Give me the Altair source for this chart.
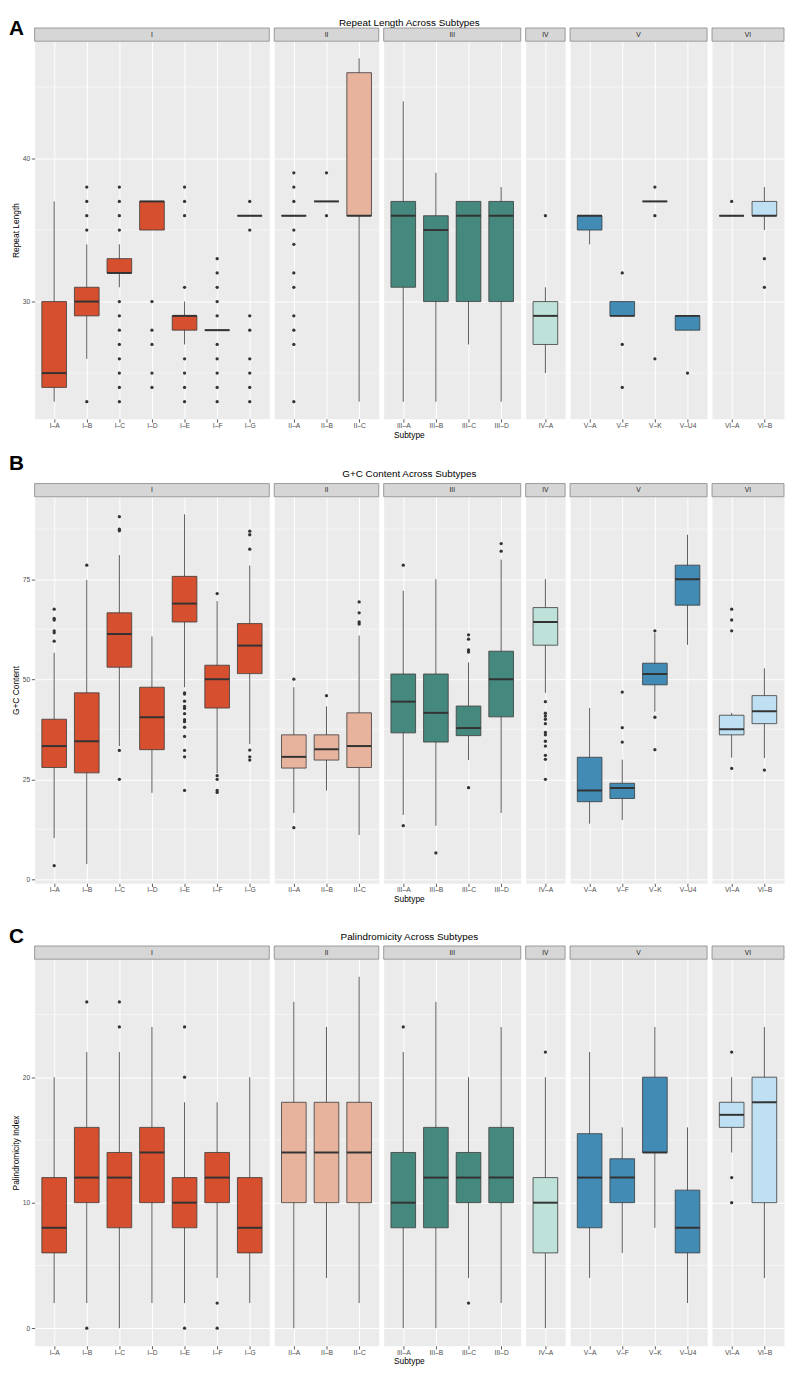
import altair as alt
import pandas as pd

FONT = "Liberation Sans"

# ---------------- categories ----------------
SUBTYPE = ["I\u2013A", "I\u2013B", "I\u2013C", "I\u2013D", "I\u2013E", "I\u2013F", "I\u2013G",
           "II\u2013A", "II\u2013B", "II\u2013C",
           "III\u2013A", "III\u2013B", "III\u2013C", "III\u2013D",
           "IV\u2013A",
           "V\u2013A", "V\u2013F", "V\u2013K", "V\u2013U4",
           "VI\u2013A", "VI\u2013B"]
SUBTYPE_TYPE = ["I"] * 7 + ["II"] * 3 + ["III"] * 4 + ["IV"] + ["V"] * 4 + ["VI"] * 2
TYPES = ["I", "II", "III", "IV", "V", "VI"]
TYPE_COLOR = ["#D6502F", "#E7B39D", "#45897E", "#BEE2DA", "#418BB5", "#BEE0F2"]

# ---------------- Repeat length ----------------
RL_Q1 = [24, 29, 32, 35, 28, 28, 36, 36, 37, 36, 31, 30, 30, 30, 27, 35, 29, 37, 28, 36, 36]
RL_MED = [25, 30, 32, 37, 29, 28, 36, 36, 37, 36, 36, 35, 36, 36, 29, 36, 29, 37, 29, 36, 36]
RL_Q3 = [30, 31, 33, 37, 29, 28, 36, 36, 37, 46, 37, 36, 37, 37, 30, 36, 30, 37, 29, 36, 37]
RL_LO = [23, 26, 31, 35, 27, 28, 36, 36, 37, 23, 23, 23, 27, 23, 25, 34, 29, 37, 28, 36, 35]
RL_HI = [37, 34, 34, 37, 30, 28, 36, 36, 37, 47, 44, 39, 37, 38, 31, 36, 30, 37, 29, 36, 38]
RL_OUT = [[], [38, 37, 36, 35, 23], [38, 37, 36, 35, 30, 29, 28, 27, 26, 25, 24, 23],
          [30, 28, 27, 25, 24], [38, 37, 36, 31, 26, 25, 24, 23],
          [33, 32, 31, 30, 29, 27, 26, 25, 24, 23], [37, 35, 29, 28, 26, 25, 24, 23],
          [39, 38, 37, 35, 34, 32, 31, 29, 28, 27, 23], [39, 36], [],
          [], [], [], [], [36], [], [32, 27, 24], [38, 36, 26], [25], [37], [33, 31]]

# ---------------- G+C content ----------------
GC_Q1 = [27.95, 26.6, 53.0, 32.4, 64.3, 42.8, 51.4, 27.8, 29.8, 27.95, 36.6, 34.3, 35.9, 40.6,
         58.5, 19.4, 20.2, 48.6, 68.5, 36.1, 38.9]
GC_MED = [33.3, 34.5, 61.3, 40.5, 68.9, 50.0, 58.4, 30.6, 32.5, 33.3, 44.4, 41.6, 37.8, 50.0,
          64.3, 22.2, 22.8, 51.3, 75.0, 37.5, 42.0]
GC_Q3 = [40.0, 46.6, 66.6, 48.0, 75.7, 53.5, 63.9, 36.1, 36.1, 41.6, 51.3, 51.3, 43.3, 57.0,
         67.9, 30.5, 24.0, 54.0, 78.5, 41.0, 45.9]
GC_LO = [10.3, 3.8, 33.3, 21.6, 48.0, 26.5, 33.8, 16.6, 22.2, 11.1, 16.1, 13.4, 29.8, 16.6,
         46.6, 13.9, 14.8, 41.9, 58.6, 30.4, 30.3]
GC_HI = [56.6, 74.8, 81.0, 60.7, 91.2, 69.5, 78.4, 48.0, 43.2, 60.9, 72.1, 75.0, 54.2, 79.9,
         75.0, 42.8, 29.9, 61.5, 86.1, 41.6, 52.7]
GC_OUT = [[67.5, 65.2, 64.8, 62.1, 61.6, 59.5, 3.4], [78.5], [90.6, 87.5, 87.1, 32.2, 25.0], [],
          [46.6, 46.3, 44.5, 43.2, 42.7, 41.4, 39.9, 39.4, 38.0, 35.7, 32.2, 30.6, 22.2],
          [71.4, 25.9, 25.0, 22.2, 21.7], [87.0, 86.1, 82.5, 32.3, 30.6, 29.8],
          [50.0, 12.9], [45.9], [69.3, 66.6, 64.3, 63.8],
          [78.5, 13.4], [6.6], [61.1, 60.0, 57.3, 56.8, 22.9], [83.9, 82.0],
          [44.4, 41.5, 40.8, 40.0, 38.9, 36.7, 36.1, 34.5, 33.3, 31.0, 30.0, 25.0],
          [], [46.8, 37.9, 34.3], [62.1, 40.5, 32.4], [],
          [67.5, 64.8, 62.1, 27.7], [27.3]]

# ---------------- Palindromicity ----------------
PI_Q1 = [6, 10, 8, 10, 8, 10, 6, 10, 10, 10, 8, 8, 10, 10, 6, 8, 10, 14, 6, 16, 10]
PI_MED = [8, 12, 12, 14, 10, 12, 8, 14, 14, 14, 10, 12, 12, 12, 10, 12, 12, 14, 8, 17, 18]
PI_Q3 = [12, 16, 14, 16, 12, 14, 12, 18, 18, 18, 14, 16, 14, 16, 12, 15.5, 13.5, 20, 11, 18, 20]
PI_LO = [2, 2, 0, 2, 2, 4, 2, 0, 4, 2, 0, 0, 4, 2, 0, 4, 6, 8, 2, 14, 4]
PI_HI = [20, 22, 22, 24, 18, 18, 20, 26, 24, 28, 22, 26, 20, 24, 20, 22, 16, 24, 16, 20, 24]
PI_OUT = [[], [26, 0], [26, 24], [], [24, 20, 0], [2, 0], [], [], [], [],
          [24], [], [2], [], [22], [], [], [], [], [22, 12, 10], []]

# ---------------- rows ----------------
ROWS = [
    dict(letter="A", title="Repeat Length Across Subtypes", ytitle="Repeat Length",
         q1=RL_Q1, med=RL_MED, q3=RL_Q3, lo=RL_LO, hi=RL_HI, out=RL_OUT,
         ticks=[30, 40], minor=[25, 35, 45], letter_y=-23, title_y=-23, height=383),
    dict(letter="B", title="G+C Content Across Subtypes", ytitle="G+C Content",
         q1=GC_Q1, med=GC_MED, q3=GC_Q3, lo=GC_LO, hi=GC_HI, out=GC_OUT,
         ticks=[0, 25, 50, 75], minor=[12.5, 37.5, 62.5, 87.5], letter_y=-43.9, title_y=-27.9,
         height=392),
    dict(letter="C", title="Palindromicity Across Subtypes", ytitle="Palindromicity Index",
         q1=PI_Q1, med=PI_MED, q3=PI_Q3, lo=PI_LO, hi=PI_HI, out=PI_OUT,
         ticks=[0, 10, 20], minor=[5, 15, 25], letter_y=-33.8, title_y=-27.6, height=392),
]

STEP = 33.0
GAP = 5
BOX_W = 25
STRIP_H = 13.4


def panel_width(t):
    n = SUBTYPE_TYPE.count(t)
    return round(STEP * (n + 0.2))


TOTAL_W = sum(panel_width(t) for t in TYPES) + GAP * (len(TYPES) - 1)


def make_row(row):
    H = row["height"]
    stats = pd.DataFrame({"sub": SUBTYPE, "type": SUBTYPE_TYPE, "q1": row["q1"], "med": row["med"],
                          "q3": row["q3"], "lo": row["lo"], "hi": row["hi"]})
    outs = pd.DataFrame([{"sub": s, "type": t, "v": v}
                         for s, t, vals in zip(SUBTYPE, SUBTYPE_TYPE, row["out"]) for v in vals])
    allv = row["lo"] + row["hi"] + [v for vals in row["out"] for v in vals]
    mn, mx = min(allv), max(allv)
    pad = 0.05 * (mx - mn)
    yscale = alt.Scale(domain=[mn - pad, mx + pad], nice=False, zero=False)

    panels = []
    for k, (t, color) in enumerate(zip(TYPES, TYPE_COLOR)):
        first = k == 0
        subs = [s for s, tt in zip(SUBTYPE, SUBTYPE_TYPE) if tt == t]
        w = panel_width(t)
        xaxis = alt.Axis(title=None, labelAngle=0, grid=True, ticks=True, labelPadding=0.5)
        xenc = alt.X("sub:N", scale=alt.Scale(type="point", domain=subs, padding=0.6, round=False),
                     axis=xaxis)
        if first:
            yaxis = alt.Axis(values=row["ticks"], title=row["ytitle"], grid=True,
                             labelPadding=1.7, titlePadding=2)
        else:
            yaxis = alt.Axis(values=row["ticks"], title=None, grid=True, labels=False, ticks=False)

        st = stats[stats["type"] == t]
        ot = outs[outs["type"] == t] if len(outs) else outs

        minor = alt.Chart(pd.DataFrame({"m": row["minor"]})).mark_rule(
            color="white", strokeWidth=0.5).encode(y=alt.Y("m:Q", scale=yscale, axis=yaxis))
        whisk = alt.Chart(st).mark_rule(color="#333333", strokeWidth=0.8).encode(
            x=xenc, y=alt.Y("lo:Q", scale=yscale, axis=yaxis), y2="hi:Q")
        box = alt.Chart(st).mark_bar(size=BOX_W, fill=color, stroke="#3a3a3a",
                                     strokeWidth=0.8).encode(
            x=xenc, y=alt.Y("q1:Q", scale=yscale, axis=yaxis), y2="q3:Q")
        med = alt.Chart(st).mark_tick(size=BOX_W, thickness=2, color="#333333", opacity=1).encode(
            x=xenc, y=alt.Y("med:Q", scale=yscale, axis=yaxis))
        strip_df = pd.DataFrame({"t": [t]})
        strip = alt.Chart(strip_df).mark_rect(fill="#D6D6D6", stroke="#858585",
                                             strokeWidth=0.8).encode(
            x=alt.value(0), x2=alt.value(w), y=alt.value(-STRIP_H), y2=alt.value(0))
        strip_txt = alt.Chart(strip_df).mark_text(font=FONT, fontSize=6.8, color="#1A1A1A",
                                                  baseline="middle", align="center").encode(
            x=alt.value(w / 2), y=alt.value(-STRIP_H / 2), text="t:N")
        layers = [minor, whisk, box, med]
        if len(ot):
            pts = alt.Chart(ot).mark_circle(size=11, color="#333333", opacity=1).encode(
                x=xenc, y=alt.Y("v:Q", scale=yscale, axis=yaxis))
            layers.append(pts)
        layers += [strip, strip_txt]
        if first:
            lbl = pd.DataFrame({"t": [row["title"]]})
            layers.append(alt.Chart(lbl).mark_text(font=FONT, fontSize=10, color="black",
                                                   align="center", baseline="top").encode(
                x=alt.value(TOTAL_W / 2), y=alt.value(row["title_y"]), text="t:N"))
            let = pd.DataFrame({"t": [row["letter"]]})
            layers.append(alt.Chart(let).mark_text(font=FONT, fontSize=21, fontWeight="bold",
                                                   color="black", align="left",
                                                   baseline="top").encode(
                x=alt.value(-26), y=alt.value(row["letter_y"]), text="t:N"))
            sub = pd.DataFrame({"t": ["Subtype"]})
            layers.append(alt.Chart(sub).mark_text(font=FONT, fontSize=8.5, color="black",
                                                   align="center", baseline="alphabetic").encode(
                x=alt.value(TOTAL_W / 2), y=alt.value(H + 19), text="t:N"))
        panels.append(alt.layer(*layers).properties(width=w, height=H))
    return alt.hconcat(*panels, spacing=GAP, bounds="flush")


rowA, rowB, rowC = [make_row(r) for r in ROWS]
top = alt.vconcat(rowA, rowB, spacing=13)
chart = alt.vconcat(top, rowC, spacing=21).properties(
    padding=0, background="white"
).configure_view(
    fill="#EBEBEB", stroke="transparent"
).configure_axis(
    labelFont=FONT, titleFont=FONT, domain=False, gridColor="white", gridWidth=1,
    tickColor="#333333", tickSize=3.3, tickWidth=0.8, labelColor="#4D4D4D", labelFontSize=6.8,
    titleFontSize=8.5, titleFontWeight="normal", titleColor="black"
)

chart.save("out.html", embed_options={"renderer": "svg", "actions": False})
